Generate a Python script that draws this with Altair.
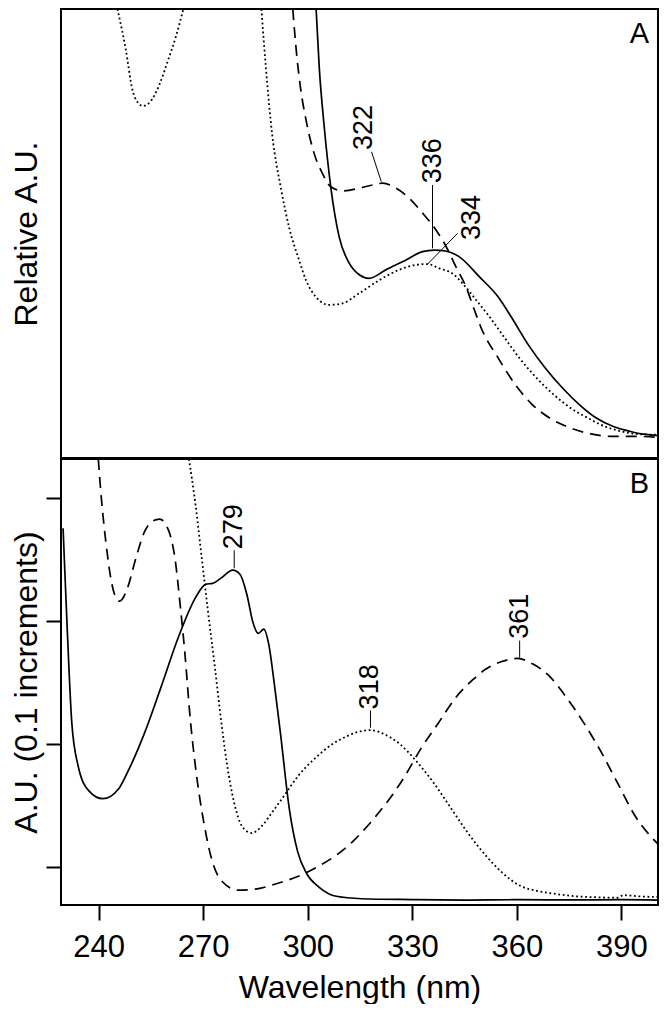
import altair as alt
import pandas as pd

FONT = "Liberation Sans"

# ---------------- Panel A (relative absorbance, arbitrary units) ----------------
a_solid_nm = [302.4, 303.3, 304.7, 306.6, 309.0, 311.9, 314.8, 317.6, 322.4, 328.2, 332.9,
              336.3, 339.5, 343.5, 349.2, 354.5, 358.4, 363.3, 368.2, 373.1, 378.0, 382.8,
              387.7, 392.6, 396.3, 400.5]
a_solid_val = [1.0, 0.87, 0.74, 0.604, 0.493, 0.434, 0.408, 0.400, 0.419, 0.441, 0.4595,
               0.463, 0.461, 0.448, 0.404, 0.360, 0.314, 0.252, 0.200, 0.156, 0.1185, 0.089,
               0.070, 0.059, 0.053, 0.050]

a_dash_nm = [295.7, 296.8, 298.0, 299.5, 301.8, 304.2, 306.6, 310.0, 314.8, 318.0, 321.5,
             325.3, 329.2, 333.0, 336.8, 339.7, 342.5, 345.4, 347.8, 349.8, 354.7, 359.6,
             364.5, 369.4, 375.5, 381.6, 387.7, 395.1, 400.5]
a_dash_val = [1.0, 0.90, 0.82, 0.753, 0.679, 0.634, 0.604, 0.595, 0.601, 0.607, 0.612,
              0.601, 0.578, 0.545, 0.508, 0.471, 0.426, 0.3815, 0.330, 0.289, 0.222, 0.163,
              0.1185, 0.089, 0.0665, 0.053, 0.048, 0.048, 0.046]

a_dot1_nm = [245.4, 247.8, 249.7, 251.2, 252.7, 254.9, 257.4, 259.8, 262.3, 264.3]
a_dot1_val = [1.0, 0.909, 0.82, 0.792, 0.784, 0.794, 0.831, 0.883, 0.942, 1.0]

a_dot2_nm = [286.7, 288.0, 289.8, 292.3, 294.7, 297.5, 299.5, 302.3, 306.1, 310.0, 314.8,
             320.5, 326.2, 331.0, 334.4, 337.7, 341.5, 344.4, 348.3, 352.1, 355.9, 360.8,
             365.7, 370.6, 375.5, 380.4, 385.3, 390.2, 395.1, 400.5]
a_dot2_val = [1.0, 0.868, 0.72, 0.601, 0.512, 0.441, 0.396, 0.359, 0.341, 0.3445, 0.367,
              0.396, 0.419, 0.430, 0.432, 0.4225, 0.411, 0.389, 0.352, 0.315, 0.274, 0.222,
              0.178, 0.141, 0.111, 0.089, 0.070, 0.059, 0.053, 0.052]

# peak annotations, panel A
annA_text = ["322", "336", "334"]
annA_nm = [316.2, 335.8, 347.2]
annA_val = [0.686, 0.612, 0.4855]
leadA_x1 = [318.3, 335.8, 343.0]
leadA_y1 = [0.682, 0.608, 0.5004]
leadA_x2 = [321.1, 335.8, 334.4]
leadA_y2 = [0.6154, 0.467, 0.432]

# ---------------- Panel B (A.U., ticks every 0.1) ----------------
b_solid_nm = [229.8, 230.3, 231.0, 232.3, 234.1, 237.2, 241.2, 245.7, 248.2, 253.1, 257.9,
              262.9, 267.8, 270.8, 272.7, 275.1, 278.5, 280.6, 282.5, 284.3, 285.8, 287.4,
              288.8, 290.4, 292.3, 294.7, 297.1, 299.6, 303.3, 308.2, 315.5, 330.0, 345.0,
              360.0, 375.0, 390.0, 400.5]
b_solid_val = [0.3752, 0.34, 0.2926, 0.2170, 0.1822, 0.1618, 0.1554, 0.1633, 0.1764, 0.2083,
               0.2461, 0.2868, 0.3188, 0.3298, 0.3304, 0.3347, 0.3411, 0.3376, 0.3217, 0.2984,
               0.2897, 0.2932, 0.2810, 0.2490, 0.2054, 0.1473, 0.1124, 0.0950, 0.0834, 0.0761,
               0.0741, 0.0734, 0.0730, 0.0733, 0.0731, 0.0733, 0.0730]

b_dash_nm = [239.9, 240.6, 241.5, 242.5, 243.3, 244.5, 246.0, 248.2, 250.6, 253.1, 255.5,
             257.5, 260.2, 261.9, 263.5, 264.7, 266.3, 268.0, 270.2, 272.7, 275.1, 280.0,
             284.9, 291.0, 297.1, 303.3, 308.2, 313.1, 317.9, 322.9, 327.8, 332.6, 337.5,
             342.4, 347.3, 351.0, 355.9, 360.2, 364.5, 369.4, 374.3, 379.2, 384.1, 389.0,
             393.9, 400.5]
b_dash_val = [0.4315, 0.4055, 0.3785, 0.3541, 0.3378, 0.322, 0.316, 0.326, 0.350, 0.372,
              0.381, 0.3827, 0.3725, 0.3507, 0.3100, 0.2752, 0.2199, 0.1764, 0.1357, 0.1037,
              0.0892, 0.0811, 0.0819, 0.0863, 0.0921, 0.1008, 0.1095, 0.1211, 0.1357, 0.1531,
              0.1734, 0.1967, 0.2170, 0.2374, 0.2519, 0.2606, 0.2671, 0.2694, 0.2650, 0.2548,
              0.2374, 0.2170, 0.1938, 0.1676, 0.1415, 0.1185]

b_dot_nm = [265.9, 267.8, 269.6, 271.4, 273.3, 275.1, 276.9, 278.8, 281.2, 283.9, 286.7,
            289.8, 293.5, 297.1, 302.0, 307.0, 311.8, 315.5, 318.0, 321.6, 326.5, 331.4,
            336.3, 341.2, 346.1, 351.0, 355.9, 360.8, 365.7, 370.6, 376.7, 382.8, 389.0,
            390.5, 395.1, 400.5]
b_dot_val = [0.4315, 0.3943, 0.3507, 0.3071, 0.2635, 0.2199, 0.1822, 0.1531, 0.1328, 0.1275,
             0.1328, 0.1444, 0.1589, 0.1734, 0.1880, 0.1996, 0.2069, 0.2104, 0.2112, 0.2083,
             0.1996, 0.1851, 0.1676, 0.1473, 0.1270, 0.1095, 0.0950, 0.0848, 0.0805, 0.0782,
             0.0761, 0.0753, 0.0749, 0.0770, 0.0760, 0.0755]

annB_text = ["279", "318", "361"]
annB_nm = [278.9, 317.9, 360.8]
annB_val = [0.3581, 0.228, 0.2854]
leadB_x = [278.9, 318.0, 360.8]
leadB_y1 = [0.3573, 0.2272, 0.2839]
leadB_y2 = [0.3427, 0.2131, 0.2700]

x_ticks = [240, 270, 300, 330, 360, 390]
yB_ticks = [0.1, 0.2, 0.3, 0.4]

X_DOMAIN = [229.2, 400.5]
YA_DOMAIN = [0.0, 1.0]
YB_DOMAIN = [0.069, 0.4315]

W = 597
HA = 449
HB = 446

xscale = alt.Scale(domain=X_DOMAIN, nice=False, zero=False)
yA_scale = alt.Scale(domain=YA_DOMAIN, nice=False, zero=False)
yB_scale = alt.Scale(domain=YB_DOMAIN, nice=False, zero=False)

TITLE_PAD = 3

axisA_y = alt.Axis(title="Relative A.U.", ticks=False, labels=False, domain=False, grid=False,
                   titleFont=FONT, titleFontSize=32, titleFontWeight="normal", titleColor="black",
                   minExtent=15, maxExtent=15, titlePadding=TITLE_PAD)
axisB_y = alt.Axis(title="A.U. (0.1 increments)", values=yB_ticks, labels=False, domain=False,
                   grid=False, ticks=True, tickSize=15, tickWidth=2, tickColor="black",
                   titleFont=FONT, titleFontSize=32, titleFontWeight="normal", titleColor="black",
                   minExtent=15, maxExtent=15, titlePadding=TITLE_PAD)
axisB_x = alt.Axis(title="Wavelength (nm)", values=x_ticks, domain=False, grid=False,
                   tickSize=15, tickWidth=2, tickColor="black", labelFont=FONT, labelFontSize=31,
                   labelColor="black", labelPadding=12, titleFont=FONT, titleFontSize=32,
                   titleFontWeight="normal", titleColor="black", titlePadding=10, format="d")


def df(nm, val):
    return pd.DataFrame({"nm": nm, "val": val})


def enc_x(panel):
    return alt.X("nm:Q", scale=xscale, axis=(axisB_x if panel == "B" else None))


def enc_y(panel):
    if panel == "A":
        return alt.Y("val:Q", scale=yA_scale, axis=axisA_y)
    return alt.Y("val:Q", scale=yB_scale, axis=axisB_y)


def line(nm, val, panel, style):
    kw = dict(color="black", clip=True, strokeCap="butt", interpolate="monotone")
    if style == "solid":
        kw.update(strokeWidth=1.7)
    elif style == "dash":
        kw.update(strokeWidth=1.7, strokeDash=[11, 7])
    else:
        kw.update(strokeWidth=1.8, strokeDash=[1.8, 2.7])
    return alt.Chart(df(nm, val)).mark_line(**kw).encode(x=enc_x(panel), y=enc_y(panel))


def labels(text, nm, val, panel):
    d = pd.DataFrame({"nm": nm, "val": val, "t": text})
    return alt.Chart(d).mark_text(angle=270, align="left", baseline="middle", font=FONT,
                                  fontSize=27, color="black").encode(
        x=enc_x(panel), y=enc_y(panel), text="t:N")


def leaders(x1, y1, x2, y2, panel):
    d = pd.DataFrame({"nm": x1, "val": y1, "nm2": x2, "val2": y2})
    return alt.Chart(d).mark_rule(color="black", strokeWidth=1).encode(
        x=enc_x(panel), y=enc_y(panel), x2="nm2:Q", y2="val2:Q")


def panel_tag(letter):
    d = pd.DataFrame({"t": [letter]})
    return alt.Chart(d).mark_text(align="right", baseline="alphabetic", font=FONT, fontSize=29,
                                  color="black").encode(
        text="t:N", x=alt.value(W - 9), y=alt.value(34))


panelA = alt.layer(
    line(a_dot1_nm, a_dot1_val, "A", "dot"),
    line(a_dot2_nm, a_dot2_val, "A", "dot"),
    line(a_dash_nm, a_dash_val, "A", "dash"),
    line(a_solid_nm, a_solid_val, "A", "solid"),
    leaders(leadA_x1, leadA_y1, leadA_x2, leadA_y2, "A"),
    labels(annA_text, annA_nm, annA_val, "A"),
    panel_tag("A"),
).properties(width=W, height=HA)

panelB = alt.layer(
    line(b_dot_nm, b_dot_val, "B", "dot"),
    line(b_dash_nm, b_dash_val, "B", "dash"),
    line(b_solid_nm, b_solid_val, "B", "solid"),
    leaders(leadB_x, leadB_y1, leadB_x, leadB_y2, "B"),
    labels(annB_text, annB_nm, annB_val, "B"),
    panel_tag("B"),
).properties(width=W, height=HB)

chart = alt.vconcat(panelA, panelB, spacing=-2).properties(
    padding={"left": 1, "top": 0, "right": 0, "bottom": 0},
    background="white",
).configure_view(stroke="black", strokeWidth=2)

chart.save("out.html", embed_options={"renderer": "svg", "actions": False})
